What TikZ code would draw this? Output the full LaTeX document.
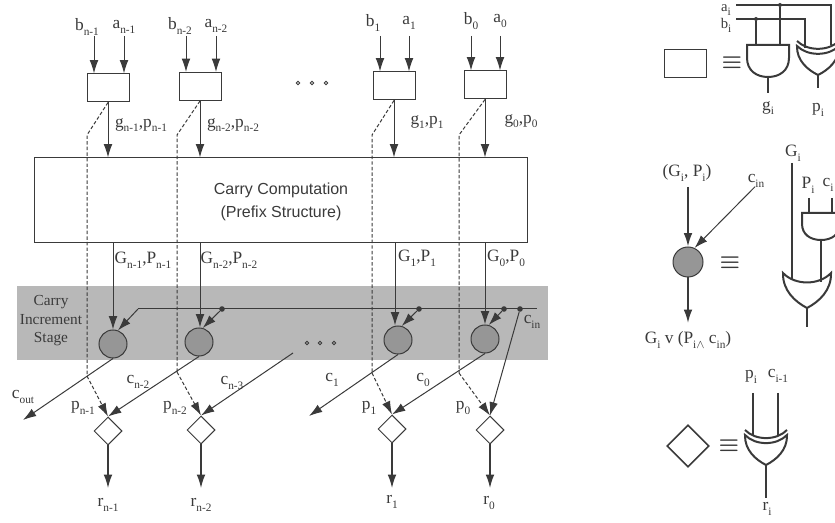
\documentclass[tikz,border=0pt]{standalone}
\usepackage{fontspec}
\setmainfont{Liberation Serif}
\setsansfont{Liberation Sans}
\usetikzlibrary{calc,positioning,shapes.geometric,arrows.meta}

\definecolor{ink}{HTML}{3A3A3A}
\definecolor{bandgray}{HTML}{B8B8B8}
\definecolor{bubblegray}{HTML}{969696}

% label with a lowered index
\newcommand{\lbl}[2]{#1\raisebox{-.6ex}{\fontsize{8.5}{8.5}\selectfont #2}}

\tikzset{
    wire/.style={draw=ink,line width=0.75pt},
    arrow/.style={wire,-{Latex[length=10pt,width=6.5pt]}},
    thickarrow/.style={arrow,line width=1.3pt},
    dasharrow/.style={arrow,dashed,dash pattern=on 2.6pt off 1.6pt},
    gateline/.style={draw=ink,line width=1.5pt},
    gatewire/.style={draw=ink,line width=1.1pt},
    keysign/.style={font=\fontsize{17}{17}\selectfont\boldmath},
    pgbox/.style={draw=ink,line width=0.75pt,fill=white,minimum width=31.5pt,minimum height=21pt,inner sep=0pt},
    bubble/.style={circle,draw=ink,line width=0.75pt,fill=bubblegray,minimum size=21pt,inner sep=0pt},
    xorbox/.style={diamond,draw=ink,line width=0.75pt,fill=white,minimum width=21pt,minimum height=21pt,inner sep=0pt},
    tapdot/.style={circle,fill=ink,minimum size=4.2pt,inner sep=0pt},
    gapdot/.style={circle,draw=ink,line width=0.6pt,minimum size=2.6pt,inner sep=0pt},
    pics/andgate/.style 2 args={code={
        \path[gateline] (-#1,0) -- (#1,0) -- (#1,#2*0.4)
            .. controls (#1,#2*0.8) and (#1*0.55,#2) .. (0,#2)
            .. controls (-#1*0.55,#2) and (-#1,#2*0.8) .. (-#1,#2*0.4) -- cycle;
        \coordinate (-out) at (0,#2);
    }},
    pics/orgate/.style 2 args={code={
        \path[gateline] (-#1,0) .. controls (-#1*0.5,#2*0.36) and (#1*0.5,#2*0.36) .. (#1,0)
            .. controls (#1*1.02,#2*0.5) and (#1*0.5,#2*0.82) .. (0,#2)
            .. controls (-#1*0.5,#2*0.82) and (-#1*1.02,#2*0.5) .. (-#1,0) -- cycle;
        \coordinate (-out) at (0,#2);
    }},
    pics/xorgate/.style 2 args={code={
        \path[gateline] (-#1,-5) .. controls (-#1*0.5,#2*0.36-5) and (#1*0.5,#2*0.36-5) .. (#1,-5);
        \path[gateline] (-#1,0) .. controls (-#1*0.5,#2*0.36) and (#1*0.5,#2*0.36) .. (#1,0)
            .. controls (#1*1.02,#2*0.5) and (#1*0.5,#2*0.82) .. (0,#2)
            .. controls (-#1*0.5,#2*0.82) and (-#1*1.02,#2*0.5) .. (-#1,0) -- cycle;
        \coordinate (-out) at (0,#2);
    }},
}

\begin{document}
\begin{tikzpicture}[x=0.75pt,y=-0.75pt
    , every node/.style={inner sep=0pt,text=ink,font=\fontsize{13}{14}\selectfont}
]
    \useasboundingbox (0,0) rectangle (835,523);
    \clip (0,0) rectangle (835,523);

    % Increment band
    \node[fill=bandgray,minimum width=398.25pt,minimum height=55.5pt] (band) at (282.5,323) {};
    \node[font=\fontsize{11.5}{14}\selectfont] (stage1) at (51,302) {Carry};
    \node[font=\fontsize{11.5}{14}\selectfont] (stage2) at (51,320) {Increment};
    \node[font=\fontsize{11.5}{14}\selectfont] (stage3) at (51,339) {Stage};

    % Carry computation
    \node[draw=ink,line width=0.75pt,minimum width=369.75pt,minimum height=63.75pt] (carry) at (280.5,200.5) {};
    \node[font=\sffamily\fontsize{12}{14}\selectfont] (carry1) at (281,190) {Carry Computation};
    \node[font=\sffamily\fontsize{12}{14}\selectfont] (carry2) at (281,213) {(Prefix Structure)};

    % Columns
    \foreach \col/\sb/\bx/\ax/\blx/\lby/\px/\py/\gx/\gy in {%
        3/n-1/94/124/87/27/108/88/141/125,%
        2/n-2/186/216/180/26/200/86.5/233/125,%
        1/1/380/409/373/23/394/86/427/122,%
        0/0/471/500/471/21/485/85/521/121}
    {
        \node[pgbox] (box\col) at (\px,\py) {};
        \node (bl\col) at (\blx,\lby) {\lbl{b}{\sb}};
        \node (al\col) at (\ax,\lby) {\lbl{a}{\sb}};
        \node (gl\col) at (\gx,\gy) {\lbl{g}{\sb},\lbl{p}{\sb}};
        \coordinate (bin\col) at (\bx,36);
        \coordinate (ain\col) at (\ax,36);
        \draw[arrow] (bin\col) -- (bin\col |- box\col.north);
        \draw[arrow] (ain\col) -- (ain\col |- box\col.north);
        \draw[arrow] (box\col.south) -- (box\col.south |- carry.north);
    }

    % Increment cells and sum cells
    \foreach \col/\cx/\cy/\lx/\dx/\dy/\kx/\ky/\rx/\ry/\sb/\Gx/\Gy/\plx/\cly in {%
        3/113/344/113/108/431/87/376/108/505/n-1/143/260/83/408,%
        2/199/342/200/201/430/177/372/201/505/n-2/229/260/175/408,%
        1/398/340/395/392/429/372/373/392/502/1/417/258/369/408,%
        0/485/339/485/490/430/459/373/489/503/0/506/258/463/408}
    {
        \node[bubble] (cell\col) at (\cx,\cy) {};
        \node[xorbox] (sum\col) at (\dx,\dy) {};
        \coordinate (gin\col) at (\lx,243);
        \draw[arrow] (gin\col) -- (gin\col |- cell\col.north);
        \node (Gl\col) at (\Gx,\Gy) {\lbl{G}{\sb},\lbl{P}{\sb}};
        \node (pl\col) at (\plx,\cly) {\lbl{p}{\sb}};
        \node (rl\col) at (\rx,\ry) {\lbl{r}{\sb}};
        % propagate path
        \coordinate (bend\col) at (\kx,135);
        \coordinate (fork\col) at (\kx,\ky);
        \draw[wire,dashed,dash pattern=on 2.6pt off 1.6pt] (box\col.south) -- (bend\col) -- (fork\col);
        \draw[dasharrow] (fork\col) -- (sum\col.north);
        % result
        \coordinate (res\col) at (\dx,488);
        \draw[arrow,line width=1pt] (sum\col.south) -- (res\col);
    }

    % Carry bus
    \coordinate (buskink) at (138,309);
    \coordinate (busend) at (537,309);
    \draw[wire] (buskink) -- (busend);
    \draw[arrow] (buskink) -- (cell3.70);
    \foreach \col/\tx in {2/222,1/419,0/504}
    {
        \node[tapdot] (tap\col) at (\tx,309) {};
        \draw[arrow] (tap\col) -- (cell\col.75);
    }
    \node[tapdot] (tapin) at (520,309) {};
    \draw[arrow] (tapin) -- (sum0.north);
    \node (cin) at (532,322) {\lbl{c}{in}};

    % Carries
    \coordinate (coutend) at (23,420);
    \coordinate (cn3start) at (293,353);
    \coordinate (c1end) at (309,416);
    \draw[arrow] (cell3.south) -- (coutend);
    \draw[arrow] (cell2.south) -- (sum3.north);
    \draw[arrow] (cn3start) -- (sum2.north);
    \draw[arrow] (cell1.south) -- (c1end);
    \draw[arrow] (cell0.south) -- (sum1.north);
    \node (coutl) at (23,397) {\lbl{c}{out}};
    \node (cn2l) at (138,382) {\lbl{c}{n-2}};
    \node (cn3l) at (232,383) {\lbl{c}{n-3}};
    \node (c1l) at (332,380) {\lbl{c}{1}};
    \node (c0l) at (423,380) {\lbl{c}{0}};

    % Gaps
    \foreach \x in {298,312,326} \node[gapdot] (topgap\x) at (\x,83) {};
    \foreach \x in {307,320,334} \node[gapdot] (lowgap\x) at (\x,343) {};

    % Legend: g,p box
    \node[pgbox] (keybox) at (685,64) {};
    \node[keysign] (equiv1) at (732,63) {$\equiv$};
    \pic (and1) at (768,45) {andgate={21}{32}};
    \pic (xor1) at (818,46) {xorgate={21}{29}};
    \node[font=\fontsize{11}{12}\selectfont] (ail) at (726,10) {\lbl{a}{i}};
    \node[font=\fontsize{11}{12}\selectfont] (bil) at (726,25) {\lbl{b}{i}};
    \coordinate (ain) at (736,5);
    \coordinate (bin) at (736,19);
    \coordinate (aturn) at (831,5);
    \coordinate (bturn) at (805,19);
    \coordinate (aend) at (831,45);
    \coordinate (bend) at (805,48);
    \node[tapdot,minimum size=3pt] (adot) at (780,5) {};
    \node[tapdot,minimum size=3pt] (bdot) at (756,19) {};
    \coordinate (agate) at (780,45);
    \coordinate (bgate) at (756,45);
    \draw[gatewire] (ain) -- (aturn) -- (aend);
    \draw[gatewire] (bin) -- (bturn) -- (bend);
    \draw[gatewire] (adot) -- (agate);
    \draw[gatewire] (bdot) -- (bgate);
    \coordinate (gout) at (768,93);
    \coordinate (pout) at (818,88);
    \draw[gatewire] (and1-out) -- (gout);
    \draw[gatewire] (xor1-out) -- (pout);
    \node (gil) at (768,108) {\lbl{g}{i}};
    \node (pil) at (818,110) {\lbl{p}{i}};

    % Legend: increment cell
    \node[bubble,minimum size=22.5pt] (keycell) at (688,262) {};
    \node (keyin) at (687,173) {(\lbl{G}{i}, \lbl{P}{i})};
    \node (keycin) at (756,181) {\lbl{c}{in}};
    \node (keyout) at (688,340) {\lbl{G}{i} v (\lbl{P}{i}\raisebox{-.6ex}{$\scriptstyle\wedge$} \lbl{c}{in})};
    \coordinate (keyGP) at (688,187);
    \coordinate (keyoutend) at (688,323);
    \draw[thickarrow] (keyGP) -- (keycell.north);
    \draw[arrow] (keycin.south) ++(-1,-1) -- (keycell.65);
    \draw[thickarrow] (keycell.south) -- (keyoutend);
    \node[keysign] (equiv2) at (730,263) {$\equiv$};
    \pic (and2) at (821,213) {andgate={19}{27}};
    \pic (or2) at (807,273) {orgate={24}{35}};
    \node (Gil) at (793,153) {\lbl{G}{i}};
    \node (Pil) at (808,185) {\lbl{P}{i}};
    \node (cil) at (828,185) {\lbl{c}{i}};
    \coordinate (Gtop) at (792,163);
    \coordinate (Gend) at (792,279);
    \coordinate (Ptop) at (809,198);
    \coordinate (Pend) at (809,213);
    \coordinate (ctop) at (832,198);
    \coordinate (cend) at (832,213);
    \coordinate (andend) at (821,282);
    \coordinate (orend) at (807,327);
    \draw[gatewire] (Gtop) -- (Gend);
    \draw[gatewire] (Ptop) -- (Pend);
    \draw[gatewire] (ctop) -- (cend);
    \draw[gatewire] (and2-out) -- (andend);
    \draw[gatewire] (or2-out) -- (orend);

    % Legend: sum cell
    \node[diamond,draw=ink,line width=1.2pt,minimum width=31.5pt,minimum height=31.5pt] (keysum) at (688,446) {};
    \node[keysign] (equiv3) at (729,446) {$\equiv$};
    \pic (xor3) at (766,435) {xorgate={21}{30}};
    \node (pi3l) at (751,377) {\lbl{p}{i}};
    \node (ci3l) at (778,376) {\lbl{c}{i-1}};
    \node (ri3l) at (767,509) {\lbl{r}{i}};
    \coordinate (pi3top) at (753,393);
    \coordinate (pi3end) at (753,435);
    \coordinate (ci3top) at (778,393);
    \coordinate (ci3end) at (778,435);
    \coordinate (ri3end) at (766,498);
    \draw[gatewire] (pi3top) -- (pi3end);
    \draw[gatewire] (ci3top) -- (ci3end);
    \draw[gatewire] (xor3-out) -- (ri3end);

\end{tikzpicture}
\end{document}
